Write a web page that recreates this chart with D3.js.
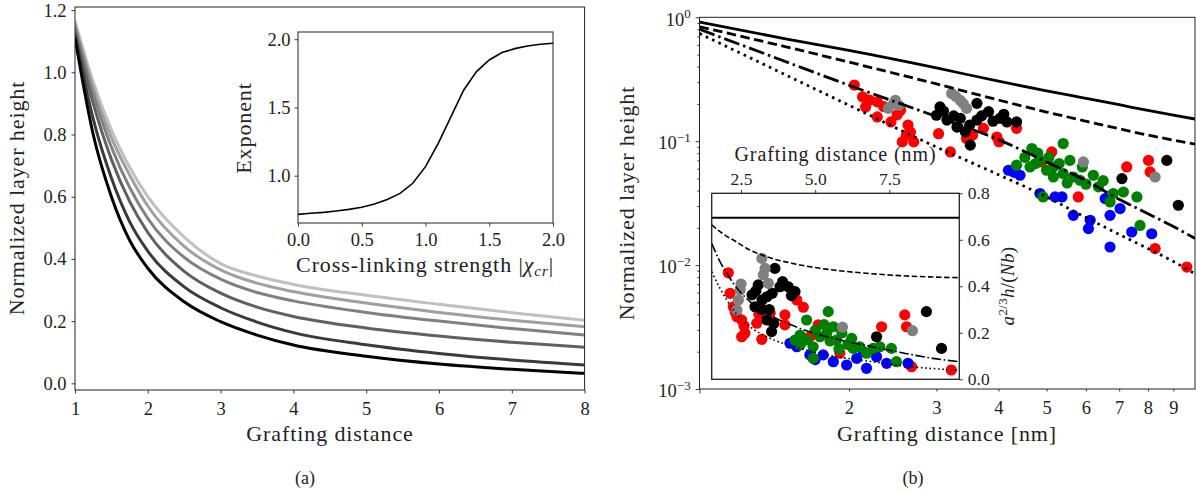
<!DOCTYPE html>
<html>
<head>
<meta charset="utf-8">
<script src="https://cdn.jsdelivr.net/npm/d3@7"></script>
<style>
  body { margin: 0; background: #fff; }
  svg { display: block; }
  text { font-family: "Liberation Serif", "DejaVu Serif", serif; fill: #222; }
</style>
</head>
<body>
<svg id="chart" width="1196" height="495"></svg>
<script>
// ---------- data: panel (a) ----------
const graftX = [1, 1.25, 1.5, 1.75, 2, 2.5, 3, 3.5, 4, 5, 6, 7, 8];
const heightL1 = [1.165, 0.97, 0.815, 0.695, 0.60, 0.47, 0.385, 0.345, 0.318, 0.283, 0.254, 0.227, 0.203];
const heightL2 = [1.155, 0.95, 0.79, 0.67, 0.57, 0.44, 0.365, 0.322, 0.295, 0.258, 0.228, 0.203, 0.182];
const heightL3 = [1.145, 0.93, 0.76, 0.63, 0.53, 0.405, 0.335, 0.292, 0.265, 0.228, 0.200, 0.176, 0.155];
const heightL4 = [1.13, 0.90, 0.72, 0.585, 0.485, 0.36, 0.29, 0.245, 0.215, 0.178, 0.152, 0.132, 0.116];
const heightL5 = [1.12, 0.85, 0.66, 0.52, 0.425, 0.31, 0.243, 0.197, 0.163, 0.124, 0.096, 0.075, 0.059];
const heightL6 = [1.11, 0.80, 0.60, 0.46, 0.37, 0.262, 0.198, 0.155, 0.123, 0.087, 0.062, 0.045, 0.032];
const curveColors = ["#c0c0c0", "#a0a0a0", "#808080", "#606060", "#3a3a3a", "#000000"];

const chiX = [0, 0.1, 0.2, 0.3, 0.4, 0.5, 0.6, 0.7, 0.8, 0.9, 1.0, 1.1, 1.2, 1.3, 1.4, 1.5, 1.6, 1.7, 1.8, 1.9, 2.0];
const exponentY = [0.716, 0.724, 0.731, 0.741, 0.753, 0.768, 0.792, 0.826, 0.870, 0.944, 1.066, 1.237, 1.433,
                   1.628, 1.763, 1.848, 1.902, 1.931, 1.950, 1.963, 1.971];

// ---------- data: panel (b) ----------
const theoryX = [1, 1.5, 2, 3, 4, 5, 6, 7, 8, 9, 9.95];
const theorySolid = [0.916, 0.667, 0.54, 0.39, 0.305, 0.255, 0.222, 0.197, 0.177, 0.162, 0.151];
const theoryDashed = [0.84, 0.575, 0.435, 0.29, 0.215, 0.172, 0.145, 0.126, 0.112, 0.102, 0.0946];
const theoryDashDot = [0.80, 0.435, 0.283, 0.158, 0.103, 0.068, 0.048, 0.034, 0.026, 0.0205, 0.0164];
const theoryDotted = [0.74, 0.339, 0.195, 0.0897, 0.0537, 0.0355, 0.0242, 0.0177, 0.0136, 0.0107, 0.0085];

const redPts = [[2.05, 0.284], [2.13, 0.228], [2.28, 0.208], [2.16, 0.189], [2.28, 0.157], [2.43, 0.143],
  [2.54, 0.178], [2.63, 0.135], [2.56, 0.0987], [2.70, 0.0987], [2.61, 0.112], [3.03, 0.115], [3.20, 0.0819],
  [3.45, 0.105], [3.73, 0.127], [3.97, 0.108], [4.01, 0.099], [4.35, 0.127], [5.12, 0.0819], [4.89, 0.068],
  [5.79, 0.0355], [7.25, 0.062], [8.02, 0.070], [8.08, 0.0565], [8.27, 0.0136], [9.58, 0.00964],
  [2.20, 0.215], [2.35, 0.190], [2.50, 0.163], [2.66, 0.118], [3.55, 0.112]];
const bluePts = [[4.19, 0.0583], [4.42, 0.0531], [4.85, 0.0378], [5.20, 0.0355], [5.37, 0.0355], [5.66, 0.0252],
  [6.12, 0.0230], [6.07, 0.0197], [6.56, 0.0344], [6.71, 0.0252], [7.03, 0.0286], [7.42, 0.0185],
  [8.14, 0.0179], [6.71, 0.0140], [4.30, 0.056]];
const greenPts = [[4.67, 0.0873], [5.40, 0.0957], [4.35, 0.064], [4.63, 0.062], [4.85, 0.070], [5.00, 0.0583],
  [5.16, 0.062], [5.57, 0.070], [5.16, 0.0514], [5.40, 0.0548], [5.66, 0.0514], [5.84, 0.0484], [6.21, 0.0531],
  [6.36, 0.0428], [6.81, 0.0378], [7.14, 0.0389], [7.60, 0.0355], [6.71, 0.0323], [4.92, 0.0355], [7.71, 0.0209],
  [4.80, 0.080], [4.75, 0.066], [5.30, 0.066], [5.90, 0.062], [6.00, 0.045], [5.50, 0.046], [6.50, 0.048],
  [4.52, 0.074], [5.05, 0.074]];
const blackPts = [[3.05, 0.189], [3.00, 0.162], [3.15, 0.148], [3.35, 0.153], [3.62, 0.202], [3.62, 0.148],
  [3.82, 0.173], [4.03, 0.153], [4.16, 0.143], [4.35, 0.143], [3.43, 0.119], [3.51, 0.0929], [7.09, 0.0499],
  [8.73, 0.070], [9.21, 0.0304], [3.10, 0.175], [3.25, 0.160], [3.70, 0.160], [3.90, 0.145], [4.10, 0.165],
  [3.50, 0.135], [3.30, 0.130]];
const grayPts = [[2.48, 0.214], [2.40, 0.184], [2.46, 0.202], [3.22, 0.243], [3.35, 0.214], [3.45, 0.184],
  [5.93, 0.068], [8.27, 0.0514], [2.52, 0.195], [3.28, 0.230], [3.40, 0.200]];

// inset of (b): a^(2/3) h / (N b)
const insetX = [1.51, 1.79, 2.02, 2.24, 2.80, 3.37, 4.49, 5.61, 6.73, 7.85, 8.97, 9.85];
const insetSolid = [0.695, 0.695, 0.695, 0.695, 0.695, 0.695, 0.695, 0.695, 0.695, 0.695, 0.695, 0.695];
const insetDashed = [0.664, 0.635, 0.615, 0.599, 0.556, 0.527, 0.492, 0.470, 0.456, 0.446, 0.440, 0.437];
const insetDashDot = [0.585, 0.506, 0.456, 0.413, 0.334, 0.284, 0.219, 0.176, 0.145, 0.116, 0.090, 0.076];
const insetDotted = [0.463, 0.391, 0.341, 0.298, 0.226, 0.183, 0.133, 0.100, 0.079, 0.060, 0.046, 0.040];

const insetRed = [[2.07, 0.458], [2.13, 0.370], [2.24, 0.312], [2.36, 0.269], [2.52, 0.255], [2.63, 0.198],
  [2.52, 0.183], [3.03, 0.241], [3.20, 0.172], [3.48, 0.284], [3.98, 0.277], [3.98, 0.234], [4.38, 0.341],
  [5.10, 0.234], [4.82, 0.183], [5.83, 0.112], [7.24, 0.226], [8.02, 0.277], [8.08, 0.226], [8.25, 0.054],
  [9.59, 0.040], [2.30, 0.290], [2.60, 0.230], [3.10, 0.280], [4.60, 0.310]];
const insetBlue = [[4.15, 0.155], [4.38, 0.140], [4.82, 0.105], [5.27, 0.105], [5.61, 0.0757], [6.06, 0.0615],
  [6.62, 0.119], [6.73, 0.0473], [7.07, 0.0972], [7.41, 0.0688], [8.13, 0.0688], [5.00, 0.085], [6.40, 0.090]];
const insetGreen = [[4.71, 0.255], [5.44, 0.291], [4.32, 0.169], [4.71, 0.169], [4.93, 0.140], [5.16, 0.183],
  [5.39, 0.198], [5.61, 0.226], [5.72, 0.169], [6.23, 0.176], [6.28, 0.133], [6.73, 0.112], [6.95, 0.133],
  [7.18, 0.140], [7.57, 0.133], [7.74, 0.0757], [4.93, 0.090], [4.49, 0.190], [5.00, 0.210], [5.50, 0.165],
  [5.90, 0.200], [6.10, 0.150], [6.50, 0.140], [5.30, 0.235], [4.50, 0.150], [5.80, 0.130]];
const insetBlack = [[3.64, 0.477], [3.08, 0.406], [2.97, 0.312], [3.37, 0.355], [3.81, 0.398], [4.09, 0.398],
  [4.32, 0.377], [3.37, 0.255], [3.53, 0.205], [3.21, 0.341], [2.87, 0.363], [7.07, 0.183], [8.75, 0.291],
  [9.26, 0.133], [3.00, 0.380], [3.55, 0.370], [3.90, 0.420], [3.20, 0.300], [3.45, 0.300], [3.60, 0.240],
  [4.20, 0.360]];
const insetGray = [[2.47, 0.384], [2.41, 0.341], [2.36, 0.298], [3.20, 0.520], [3.31, 0.477], [3.42, 0.413],
  [5.92, 0.224], [8.28, 0.209], [2.50, 0.410], [3.25, 0.450]];

const TICK = 18.5, TICK_SMALL = 17.5, LABEL = 22;
const SERIF = "'Liberation Serif', 'DejaVu Serif', serif";
const svg = d3.select("#chart");
svg.append("rect").attr("width", 1196).attr("height", 495).attr("fill", "#fff");

function styleAxis(g, size) {
  g.select(".domain").remove();
  g.selectAll(".tick line").attr("stroke", "#222").attr("stroke-width", 0.9);
  g.selectAll(".tick text").attr("fill", "#222")
    .style("font-family", SERIF).style("font-size", size + "px");
}

function frame(x0, y0, x1, y1, fill) {
  svg.append("rect").attr("x", x0).attr("y", y0).attr("width", x1 - x0).attr("height", y1 - y0)
    .attr("fill", fill || "none").attr("stroke", "#222").attr("stroke-width", 1);
}

function clip(id, x0, y0, x1, y1) {
  svg.append("clipPath").attr("id", id).append("rect")
    .attr("x", x0).attr("y", y0).attr("width", x1 - x0).attr("height", y1 - y0);
}

function label(x, y, txt, size, rotate) {
  const t = svg.append("text").attr("text-anchor", "middle")
    .style("font-family", SERIF).style("font-size", size + "px")
    .style("letter-spacing", "0.9px")
    .attr("transform", `translate(${x},${y})` + (rotate ? " rotate(-90)" : ""));
  t.text(txt);
  return t;
}

// ================= panel (a) =================
const xA = d3.scaleLinear().domain([1, 8]).range([75, 584.6]);
const yA = d3.scaleLinear().domain([-0.0215, 1.21]).range([390, 7]);
clip("clipA", 75, 7, 584.6, 390);

const lineA = d3.line().x(d => xA(d[0])).y(d => yA(d[1])).curve(d3.curveMonotoneX);
const curvesA = [heightL1, heightL2, heightL3, heightL4, heightL5, heightL6];
svg.append("g").attr("clip-path", "url(#clipA)")
  .selectAll("path").data(curvesA).join("path")
  .attr("d", h => lineA(graftX.map((x, i) => [x, h[i]])))
  .attr("fill", "none")
  .attr("stroke", (h, i) => curveColors[i])
  .attr("stroke-width", 3);

frame(75, 7, 584.6, 390);
svg.append("g").attr("transform", "translate(0,390)")
  .call(d3.axisBottom(xA).tickValues([1, 2, 3, 4, 5, 6, 7, 8]).tickSize(3.5).tickPadding(8.5).tickFormat(d3.format("d")))
  .call(g => styleAxis(g, TICK));
svg.append("g").attr("transform", "translate(75,0)")
  .call(d3.axisLeft(yA).tickValues([0, 0.2, 0.4, 0.6, 0.8, 1.0, 1.2]).tickSize(3.5).tickPadding(5).tickFormat(d3.format(".1f")))
  .call(g => styleAxis(g, TICK));
label(330, 441, "Grafting distance", LABEL);
label(24, 198, "Normalized layer height", LABEL, true);

// inset of (a)
const xI = d3.scaleLinear().domain([0, 2]).range([298, 553]);
const yI = d3.scaleLinear().domain([0.653, 2.053]).range([223, 32]);
frame(298, 32, 553, 223, "#fff");
svg.append("path")
  .attr("d", d3.line().x(d => xI(d[0])).y(d => yI(d[1]))(chiX.map((x, i) => [x, exponentY[i]])))
  .attr("fill", "none").attr("stroke", "#000").attr("stroke-width", 1.6);
svg.append("g").attr("transform", "translate(0,223)")
  .call(d3.axisBottom(xI).tickValues([0, 0.5, 1, 1.5, 2]).tickSize(3.5).tickPadding(6).tickFormat(d3.format(".1f")))
  .call(g => styleAxis(g, TICK));
svg.append("g").attr("transform", "translate(298,0)")
  .call(d3.axisLeft(yI).tickValues([1, 1.5, 2]).tickSize(3.5).tickPadding(4).tickFormat(d3.format(".1f")))
  .call(g => styleAxis(g, TICK));
label(251, 128, "Exponent", LABEL, true);
const chiLabel = label(425, 272, "Cross-linking strength |", LABEL);
chiLabel.append("tspan").style("font-style", "italic").text("χ");
chiLabel.append("tspan").style("font-style", "italic").style("font-size", "15px").attr("dy", 4).text("cr");
chiLabel.append("tspan").attr("dy", -4).text("|");

svg.append("text").attr("x", 305).attr("y", 484).attr("text-anchor", "middle")
  .style("font-family", SERIF).style("font-size", "18px").text("(a)");

// ================= panel (b) =================
const xB = d3.scaleLog().domain([1, 9.95]).range([699.5, 1195]);
const yB = d3.scaleLog().domain([1e-3, 1]).range([389, 17.3]);
clip("clipB", 699.5, 17.3, 1195, 389);

const dotColors = { red: "#ff0000", blue: "#0000ff", green: "#008000", black: "#000000", gray: "#808080" };
const R = 5.6;
const mainSets = [[redPts, dotColors.red], [bluePts, dotColors.blue], [greenPts, dotColors.green],
                  [blackPts, dotColors.black], [grayPts, dotColors.gray]];
const gDots = svg.append("g").attr("clip-path", "url(#clipB)");
mainSets.forEach(([pts, col]) => {
  gDots.append("g").selectAll("circle").data(pts).join("circle")
    .attr("cx", d => xB(d[0])).attr("cy", d => yB(d[1])).attr("r", R).attr("fill", col);
});

const theoryStyles = [
  [theorySolid, null], [theoryDashed, "9.5 4.5"], [theoryDashDot, "16 4 2.5 4"], [theoryDotted, "2.6 4.4"]
];
const lineB = d3.line().x(d => xB(d[0])).y(d => yB(d[1])).curve(d3.curveMonotoneX);
theoryStyles.forEach(([vals, dash]) => {
  gDots.append("path")
    .attr("d", lineB(theoryX.map((x, i) => [x, vals[i]])))
    .attr("fill", "none").attr("stroke", "#000").attr("stroke-width", 2.8)
    .attr("stroke-dasharray", dash);
});

frame(699.5, 17.3, 1195, 389);
// x axis: major tick at 1, labelled minor ticks 2..9
svg.append("g").attr("transform", "translate(0,389)")
  .call(d3.axisBottom(xB).tickValues([1]).tickSize(4.5).tickFormat(""))
  .call(g => styleAxis(g, TICK));
svg.append("g").attr("transform", "translate(0,389)")
  .call(d3.axisBottom(xB).tickValues([2, 3, 4, 5, 6, 7, 8, 9]).tickSize(2.5).tickPadding(9).tickFormat(d3.format("d")))
  .call(g => styleAxis(g, TICK));
// y axis: decades with superscripts + minor ticks
const minorY = [];
[1e-3, 1e-2, 1e-1].forEach(dec => { for (let k = 2; k <= 9; k++) minorY.push(dec * k); });
svg.append("g").attr("transform", "translate(699.5,0)")
  .call(d3.axisLeft(yB).tickValues(minorY).tickSize(2.2).tickFormat(""))
  .call(g => styleAxis(g, TICK));
const decExp = new Map([[1, "0"], [0.1, "\u22121"], [0.01, "\u22122"], [0.001, "\u22123"]]);
svg.append("g").attr("transform", "translate(699.5,0)")
  .call(d3.axisLeft(yB).tickValues([1, 0.1, 0.01, 0.001]).tickSize(3.8).tickPadding(5).tickFormat(""))
  .call(g => styleAxis(g, TICK))
  .call(g => g.selectAll(".tick text").each(function (d) {
    const t = d3.select(this).text(null).attr("dy", "0.42em");
    t.append("tspan").text("10");
    t.append("tspan").attr("dy", -7.5).style("font-size", "13px").text(decExp.get(d));
  }));
label(947, 441, "Grafting distance [nm]", LABEL);
label(634, 203, "Normalized layer height", LABEL, true);
svg.append("text").attr("x", 913).attr("y", 484).attr("text-anchor", "middle")
  .style("font-family", SERIF).style("font-size", "18px").text("(b)");

// inset of (b)
const xJ = d3.scaleLinear().domain([1.51, 9.86]).range([711.7, 959.3]);
const yJ = d3.scaleLinear().domain([0, 0.8]).range([379.3, 193.3]);
frame(711.7, 193.3, 959.3, 379.3, "#fff");
clip("clipJ", 711.7, 193.3, 959.3, 379.3);
const gIn = svg.append("g").attr("clip-path", "url(#clipJ)");
const insetSets = [[insetRed, dotColors.red], [insetBlue, dotColors.blue], [insetGreen, dotColors.green],
                   [insetBlack, dotColors.black], [insetGray, dotColors.gray]];
insetSets.forEach(([pts, col]) => {
  gIn.append("g").selectAll("circle").data(pts).join("circle")
    .attr("cx", d => xJ(d[0])).attr("cy", d => yJ(d[1])).attr("r", R).attr("fill", col);
});
const lineJ = d3.line().x(d => xJ(d[0])).y(d => yJ(d[1])).curve(d3.curveMonotoneX);
[[insetSolid, null, 2], [insetDashed, "5.5 2.6", 1.6], [insetDashDot, "9.6 2.6 1.6 2.6", 1.6], [insetDotted, "1.6 2.7", 1.6]]
  .forEach(([vals, dash, w]) => {
    gIn.append("path")
      .attr("d", lineJ(insetX.map((x, i) => [x, vals[i]])))
      .attr("fill", "none").attr("stroke", "#000").attr("stroke-width", w)
      .attr("stroke-dasharray", dash);
  });
frame(711.7, 193.3, 959.3, 379.3);
svg.append("g").attr("transform", "translate(0,193.3)")
  .call(d3.axisTop(xJ).tickValues([2.5, 5, 7.5]).tickSize(3.5).tickPadding(5).tickFormat(d3.format(".1f")))
  .call(g => styleAxis(g, TICK_SMALL));
svg.append("g").attr("transform", "translate(959.3,0)")
  .call(d3.axisRight(yJ).tickValues([0, 0.2, 0.4, 0.6, 0.8]).tickSize(3.5).tickPadding(5).tickFormat(d3.format(".1f")))
  .call(g => styleAxis(g, TICK_SMALL));
label(835.5, 161, "Grafting distance (nm)", 20);
const aLabel = label(1014, 286, "", 19, true).style("letter-spacing", "0.3px");
aLabel.append("tspan").style("font-style", "italic").text("a");
aLabel.append("tspan").attr("dy", -7).style("font-size", "13px").text("2/3");
aLabel.append("tspan").attr("dy", 7).style("font-style", "italic").text("h");
aLabel.append("tspan").text("/(");
aLabel.append("tspan").style("font-style", "italic").text("Nb");
aLabel.append("tspan").text(")");
</script>
</body>
</html>
